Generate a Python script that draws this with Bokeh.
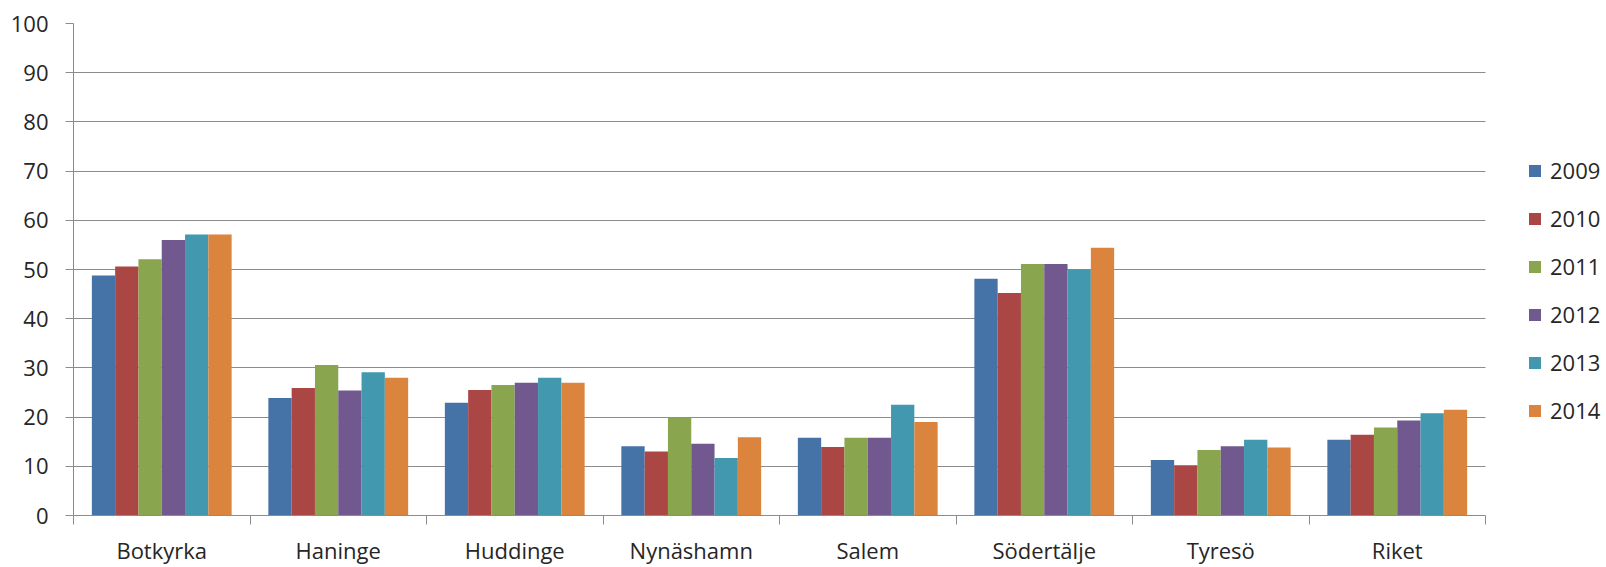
from bokeh.plotting import figure
from bokeh.models import (ColumnDataSource, Range1d, FixedTicker, Legend, LegendItem)
from bokeh.transform import dodge
from bokeh.embed import file_html
from bokeh.resources import INLINE

categories = ["Botkyrka", "Haninge", "Huddinge", "Nynäshamn", "Salem", "Södertälje", "Tyresö", "Riket"]
years = ["2009", "2010", "2011", "2012", "2013", "2014"]
v2009 = [48.8, 23.9, 22.9, 14.1, 15.8, 48.1, 11.3, 15.4]
v2010 = [50.6, 25.9, 25.5, 13.0, 13.9, 45.2, 10.2, 16.4]
v2011 = [52.1, 30.6, 26.5, 19.9, 15.8, 51.1, 13.3, 17.9]
v2012 = [56.0, 25.4, 27.0, 14.6, 15.8, 51.1, 14.1, 19.3]
v2013 = [57.1, 29.1, 28.0, 11.7, 22.5, 50.0, 15.4, 20.8]
v2014 = [57.1, 28.0, 27.0, 15.9, 19.0, 54.4, 13.8, 21.5]
series = [v2009, v2010, v2011, v2012, v2013, v2014]
colors = ["#4572A7", "#AA4643", "#89A54E", "#71588F", "#4198AF", "#DB843D"]
y_ticks = list(range(0, 101, 10))

FONT = "Open Sans"
TXT = "#262626"
GRAY = "#8C8C8C"

n = len(categories)
data = {"x": [i + 0.5 for i in range(n)]}
for y, s in zip(years, series):
    data[y] = s
source = ColumnDataSource(data)

# frame spans to the right edge so the legend can sit beside the bars;
# grid and axis are bounded to the category span
W, H = 1606, 567
left, top, bottom = 73, 23, 49
cat_px = (1485 - left) / n
x_end = (W - left) / cat_px

p = figure(width=W, height=H, output_backend="svg", toolbar_location=None,
           x_range=Range1d(0, x_end), y_range=Range1d(0, 100),
           min_border_left=left, min_border_right=0, min_border_top=top, min_border_bottom=bottom)
p.outline_line_color = None
p.background_fill_color = "white"
p.border_fill_color = "white"

bw = 0.132
offsets = [-0.33, -0.198, -0.066, 0.066, 0.198, 0.33]
items = []
for y, c, off in zip(years, colors, offsets):
    r = p.vbar(x=dodge("x", off, range=p.x_range), top=y, width=bw, source=source,
               fill_color=c, line_color=None)
    items.append(LegendItem(label=y, renderers=[r]))

# x axis
xa = p.xaxis[0]
xa.bounds = (0, n)
xa.ticker = FixedTicker(ticks=[i + 0.5 for i in range(n)], minor_ticks=list(range(n + 1)))
xa.major_label_overrides = {i + 0.5: c for i, c in enumerate(categories)}
xa.major_tick_out = 0
xa.major_tick_in = 0
xa.minor_tick_out = 9
xa.minor_tick_in = 0
xa.minor_tick_line_color = GRAY
xa.axis_line_color = GRAY
xa.major_label_text_font = FONT
xa.major_label_text_font_size = "22px"
xa.major_label_text_color = TXT
xa.major_label_standoff = 10
p.xgrid.visible = False

# y axis
ya = p.yaxis[0]
ya.ticker = FixedTicker(ticks=y_ticks)
ya.major_tick_out = 8
ya.major_tick_in = 0
ya.minor_tick_out = 0
ya.minor_tick_in = 0
ya.major_tick_line_color = GRAY
ya.axis_line_color = GRAY
ya.major_label_text_font = FONT
ya.major_label_text_font_size = "22px"
ya.major_label_text_color = TXT
ya.major_label_standoff = 17
p.ygrid.ticker = FixedTicker(ticks=y_ticks)
p.ygrid.cross_bounds = (0, n)
p.ygrid.grid_line_color = GRAY
p.ygrid.grid_line_width = 1

legend = Legend(items=items, location=(1454, 90), padding=0, margin=0, spacing=18,
                glyph_width=15, glyph_height=15, label_standoff=8,
                label_text_font=FONT, label_text_font_size="22px", label_text_color=TXT,
                background_fill_alpha=0, border_line_color=None)
p.add_layout(legend, "center")

open("out.html", "w").write(file_html(p, INLINE))
